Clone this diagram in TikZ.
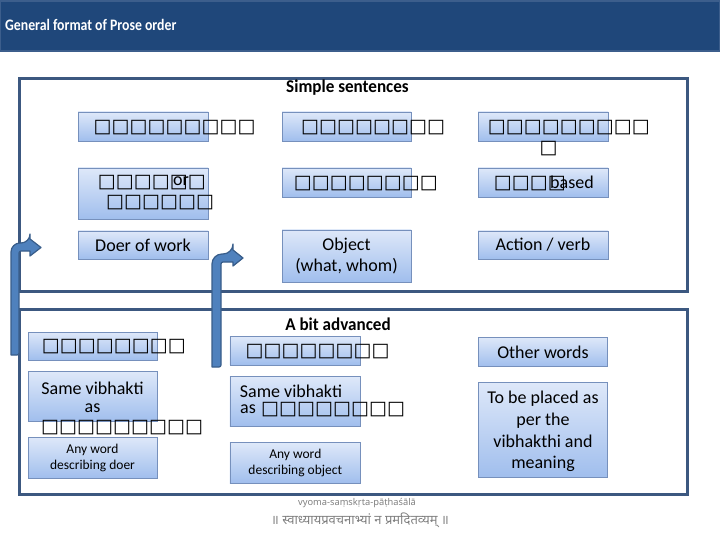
\documentclass[tikz,border=0pt]{standalone}
\usepackage{fontspec}
\setmainfont{Carlito}
\newfontfamily\djv{DejaVu Sans}
\newfontfamily\deva[Script=Devanagari]{Noto Sans}
\newfontfamily\footfont{Noto Sans}
\definecolor{headcol}{RGB}{31,71,122}
\definecolor{headborder}{RGB}{60,94,140}
\definecolor{framecol}{RGB}{60,88,128}
\definecolor{boxtop}{RGB}{222,232,249}
\definecolor{boxbot}{RGB}{160,190,237}
\definecolor{boxborder}{RGB}{118,144,188}
\definecolor{arrfill}{RGB}{79,129,189}
\definecolor{arrborder}{RGB}{56,93,138}
\definecolor{footgray}{RGB}{128,128,128}
\newcommand\sqglyph{\makebox[18pt]{\djv\fontsize{19pt}{19pt}\selectfont □}}
\newcommand\sqs[1]{\foreach \i in {1,...,#1}{\sqglyph}}
\begin{document}
\begin{tikzpicture}[x=1pt,y=-1pt,
  box/.style={draw=boxborder, line width=0.8pt, top color=boxtop, bottom color=boxbot, inner sep=0pt, align=center, font=\fontsize{18pt}{21.6pt}\selectfont},
  frame/.style={draw=framecol, line width=3pt},
  sqrow/.style={anchor=west, inner sep=0pt},
  txt/.style={inner sep=0pt, font=\fontsize{18pt}{21.6pt}\selectfont},
  small/.style={font=\fontsize{13.5pt}{16.5pt}\selectfont},
  heading/.style={inner sep=0pt, font=\bfseries\fontsize{18pt}{20pt}\selectfont},
  bentarrow/.style={fill=arrfill, draw=arrborder, line width=1.2pt, line join=round}]
\useasboundingbox (0,0) rectangle (720,540);
\fill[white] (0,0) rectangle (720,540);
% header
\draw[fill=headcol, draw=headborder, line width=1.5pt] (0,1) rectangle (720,51);
\node[anchor=west, inner sep=0pt, text=white, font=\bfseries\fontsize{16pt}{18pt}\selectfont] (title) at (5,25) {\scalebox{0.86}[1]{General format of Prose order}};
% frames
\draw[frame] (19.5,79) rectangle (687,291);
\draw[frame] (19.5,309.5) rectangle (687,494);
\node[heading] (simple) at (347.5,88) {\scalebox{0.95}[1]{Simple sentences}};
\node[heading] (adv) at (338,324) {\scalebox{0.95}[1]{A bit advanced}};
% top boxes
\node[box, minimum width=130pt, minimum height=29pt] (b11) at (143,126.5) {};
\node[box, minimum width=129pt, minimum height=29pt] (b12) at (346.5,126.5) {};
\node[box, minimum width=130pt, minimum height=29pt] (b13) at (543,126.5) {};
\node[box, minimum width=130pt, minimum height=51pt] (b21) at (143,193.5) {};
\node[box, minimum width=129pt, minimum height=29pt] (b22) at (346.5,182.5) {};
\node[box, minimum width=130pt, minimum height=29pt] (b23) at (543,182.5) {};
\node[box, minimum width=130pt, minimum height=28pt] (b31) at (143,245) {Doer of work};
\node[box, minimum width=129pt, minimum height=52pt] (b32) at (346.5,256) {Object\\(what, whom)};
\node[box, minimum width=130pt, minimum height=28pt] (b33) at (543,245) {Action / verb};
% top texts
\node[sqrow] (t11) at (93.3,127.7) {\sqs{9}};
\node[sqrow] (t21a) at (97.7,183) {\sqs{6}};
\node[txt] (t21or) at (181,181.5) {or};
\node[sqrow] (t21b) at (106,203) {\sqs{6}};
\node[sqrow] (t12) at (301,127.7) {\sqs{8}};
\node[sqrow] (t22) at (293.7,183.3) {\sqs{8}};
\node[sqrow] (t13a) at (487.7,127.7) {\sqs{9}};
\node[sqrow] (t13b) at (539.3,148.3) {\sqs{1}};
\node[sqrow] (t23) at (493.7,184) {\sqs{4}};
\node[txt, anchor=west] (t23b) at (550,182) {based};
% lower boxes
\node[box, minimum width=129pt, minimum height=28pt] (c11) at (92.5,346) {};
\node[box, minimum width=129pt, minimum height=50pt] (c21) at (92.5,396.7) {};
\node[box, small, minimum width=129pt, minimum height=41pt] (c31) at (92.5,457.8) {Any word\\describing doer};
\node[box, minimum width=130.7pt, minimum height=28.3pt] (c12) at (295.3,350.8) {};
\node[box, minimum width=130.7pt, minimum height=50pt] (c22) at (295.3,401.7) {};
\node[box, small, minimum width=130.7pt, minimum height=40.7pt] (c32) at (295.3,463) {Any word\\describing object};
\node[box, minimum width=129.4pt, minimum height=29.4pt] (c13) at (543,352) {Other words};
\node[box, minimum width=129.4pt, minimum height=95pt] (c23) at (543,429.8) {};
\node[txt, align=center] (c23t) at (543,431.5) {To be placed as\\per the\\vibhakthi and\\meaning};
% lower texts
\node[sqrow] (s11) at (41.7,346.7) {\sqs{8}};
\node[txt] (s21a) at (92.5,388) {Same vibhakti};
\node[txt] (s21b) at (92.5,408) {as};
\node[sqrow] (s21c) at (41,428) {\sqs{9}};
\node[sqrow] (s12) at (245.3,351.7) {\sqs{8}};
\node[txt] (s22a) at (291,391.7) {Same vibhakti};
\node[txt, anchor=west] (s22b) at (240,409) {as};
\node[sqrow] (s22c) at (261,410) {\sqs{8}};
% bent arrows
\draw[bentarrow] (11,355) [rounded corners=9pt]-- (11,243) -- (30,243) [sharp corners]-- (30,239) -- (41,247.5) -- (30,256) -- (30,251) [rounded corners=2pt]-- (19,251) -- (19,355) [sharp corners]-- cycle;
\draw[bentarrow] (212,367) [rounded corners=10pt]-- (212,254) -- (233,254) [sharp corners]-- (233,250) -- (243,258) -- (233,266) -- (233,262) [rounded corners=2pt]-- (221,262) -- (221,367) [sharp corners]-- cycle;
% footer
\node[inner sep=0pt, text=footgray, font=\footfont\fontsize{9.3pt}{11pt}\selectfont] (f1) at (357,503) {vyoma-saṃskṛta-pāṭhaśālā};
\node[inner sep=0pt, text=footgray, font=\deva\fontsize{13pt}{14pt}\selectfont] (f2) at (360,520) {॥ स्वाध्यायप्रवचनाभ्यां न प्रमदितव्यम् ॥};
\end{tikzpicture}
\end{document}
